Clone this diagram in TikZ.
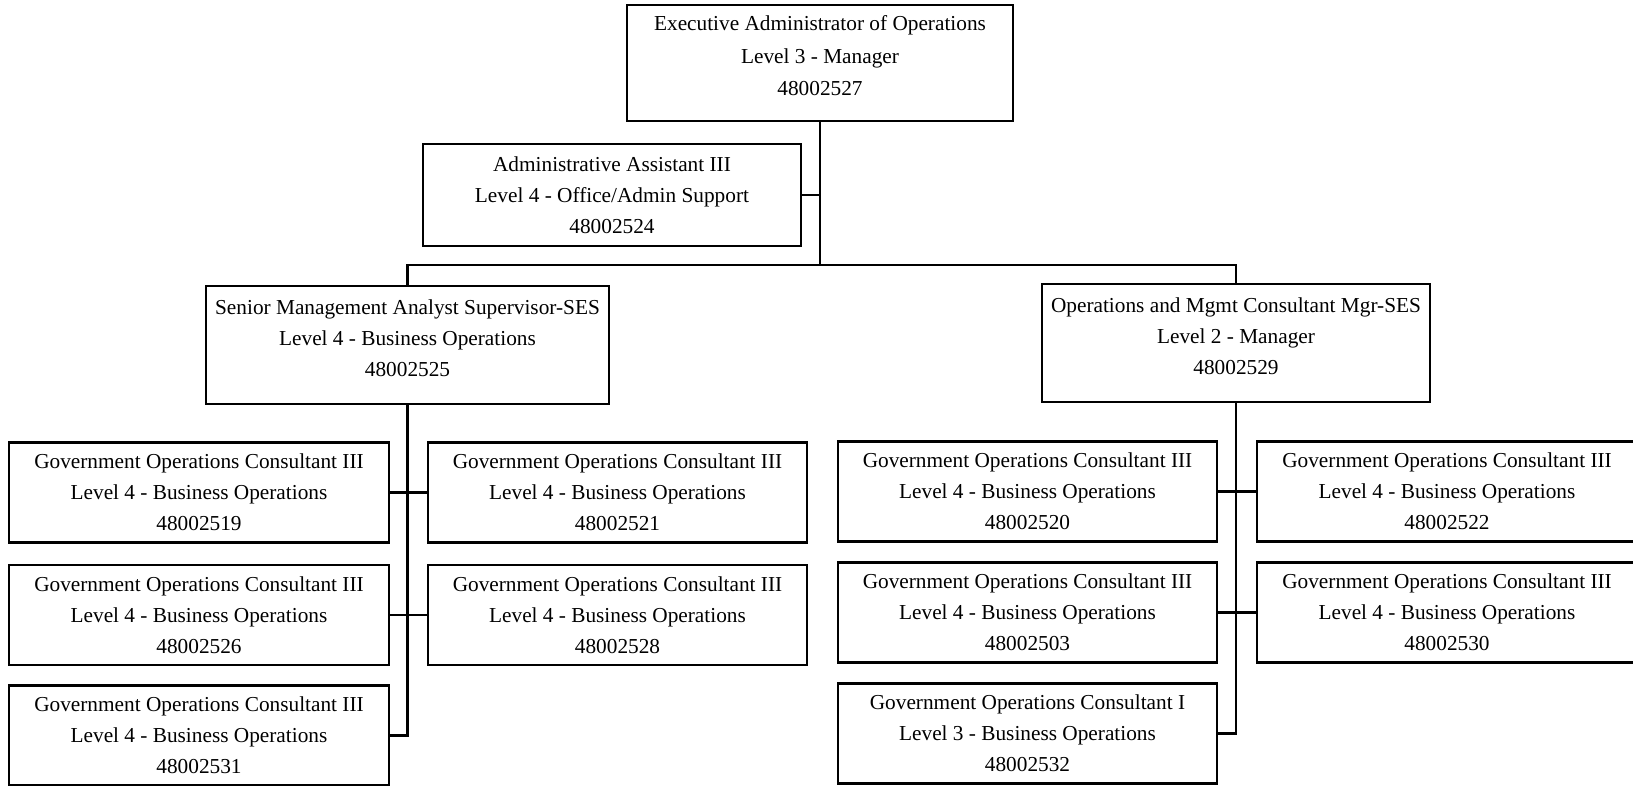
\documentclass[tikz,border=0pt]{standalone}
\usepackage{fontspec}
\setmainfont{Liberation Serif}
\begin{document}
\begin{tikzpicture}[x=0.5pt,y=-0.5pt]
\tikzset{
  box/.style={draw, line width=1.25pt, inner sep=0pt, align=center,
    font=\fontsize{10.65pt}{15.5pt}\selectfont,
    minimum width=190pt, minimum height=50pt},
  raised/.style={text depth=7pt},
  link/.style={line width=1.2pt}
}
\useasboundingbox (0,0) rectangle (1633,786);
% top levels
\node[box, raised, minimum width=193pt, minimum height=58pt,
  font=\fontsize{10.65pt}{16.25pt}\selectfont] (exec) at (820,63)
  {Executive Administrator of Operations\\Level 3 - Manager\\48002527};
\node[box, minimum width=189pt, minimum height=51pt] (admin) at (612,195)
  {Administrative Assistant III\\Level 4 - Office/Admin Support\\48002524};
\node[box, raised, minimum width=201.5pt, minimum height=59pt] (sr) at (407.5,345)
  {Senior Management Analyst Supervisor-SES\\Level 4 - Business Operations\\48002525};
\node[box, raised, minimum width=194pt, minimum height=59pt] (ops) at (1236,343)
  {Operations and Mgmt Consultant Mgr-SES\\Level 2 - Manager\\48002529};
% left group
\node[box] (L1) at (199,492.5) {Government Operations Consultant III\\Level 4 - Business Operations\\48002519};
\node[box] (L2) at (199,615) {Government Operations Consultant III\\Level 4 - Business Operations\\48002526};
\node[box] (L3) at (199,735.5) {Government Operations Consultant III\\Level 4 - Business Operations\\48002531};
\node[box, minimum width=189.5pt] (LR1) at (617.5,492.5) {Government Operations Consultant III\\Level 4 - Business Operations\\48002521};
\node[box, minimum width=189.5pt] (LR2) at (617.5,615) {Government Operations Consultant III\\Level 4 - Business Operations\\48002528};
% right group
\node[box, minimum width=189.5pt] (RL1) at (1027.5,491.5) {Government Operations Consultant III\\Level 4 - Business Operations\\48002520};
\node[box, minimum width=189.5pt] (RL2) at (1027.5,612.5) {Government Operations Consultant III\\Level 4 - Business Operations\\48002503};
\node[box, minimum width=189.5pt] (RL3) at (1027.5,733.5) {Government Operations Consultant I\\Level 3 - Business Operations\\48002532};
\node[box] (RR1) at (1447,491.5) {Government Operations Consultant III\\Level 4 - Business Operations\\48002522};
\node[box] (RR2) at (1447,612.5) {Government Operations Consultant III\\Level 4 - Business Operations\\48002530};
% connectors
\coordinate (bus) at (820,265);
\draw[link] (exec.south) -- (bus);
\draw[link] (admin.east) -- (admin.east -| exec.south);
\draw[link] (sr.north) |- (bus) -| (ops.north);
\draw[link] (sr.south) |- (L3.east);
\draw[link] (L1.east) -- (LR1.west);
\draw[link] (L2.east) -- (LR2.west);
\draw[link] (ops.south) |- (RL3.east);
\draw[link] (RL1.east) -- (RR1.west);
\draw[link] (RL2.east) -- (RR2.west);
\end{tikzpicture}
\end{document}
